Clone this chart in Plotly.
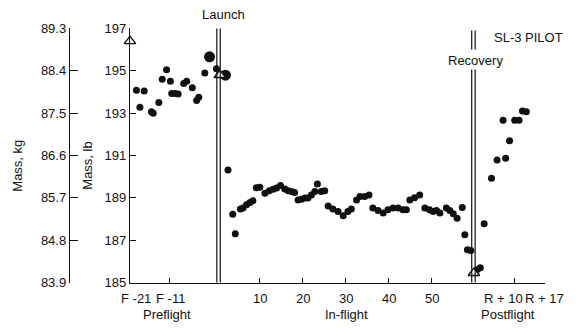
import plotly.graph_objects as go

# ---------------- data (days relative to launch unless noted) ----------------
RECOVERY_DAY = 59.3          # recovery, in days after launch

# preflight: days before launch (F - n) and mass in lb
pre_days = [18.7, 16.9, 17.9, 15.2, 14.8, 13.5, 12.7, 11.7, 10.8, 10.5, 9.7, 9.0,
            7.7, 7.0, 5.7, 4.7, 4.2, 2.8, 0.1]
pre_mass = [194.08, 194.04, 193.28, 193.07, 192.99, 193.5, 194.6, 195.05, 194.5,
            193.93, 193.93, 193.9, 194.4, 194.5, 194.2, 193.6, 193.75, 194.9, 195.1]

# in-flight: mission day and mass in lb
inflight_days = [2.6, 3.7, 4.3, 5.5, 6.1, 6.9, 7.7, 8.4, 9.2, 10.0, 11.2, 12.2, 13.1,
                 13.9, 14.8, 15.8, 16.6, 17.4, 18.1, 18.9, 19.7, 20.5, 21.2, 22.0,
                 22.8, 23.4, 24.3, 25.1, 25.9, 27.0, 28.2, 29.4, 30.5, 31.3, 32.5,
                 33.3, 34.4, 35.4, 36.3, 37.5, 38.7, 39.8, 41.0, 42.2, 43.3, 44.1,
                 44.9, 46.0, 47.2, 48.4, 49.5, 50.3, 51.1, 51.9, 53.4, 54.2, 55.0,
                 55.9, 57.1, 57.7, 58.3, 59.1]
inflight_mass = [190.32, 188.23, 187.31, 188.47, 188.52, 188.67, 188.78, 188.86,
                 189.48, 189.5, 189.22, 189.34, 189.41, 189.46, 189.58, 189.42,
                 189.33, 189.3, 189.25, 188.9, 188.94, 188.99, 188.99, 189.14, 189.3,
                 189.66, 189.3, 189.34, 188.62, 188.47, 188.36, 188.15, 188.36,
                 188.47, 188.9, 189.06, 189.06, 189.14, 188.52, 188.4, 188.28,
                 188.44, 188.52, 188.52, 188.44, 188.44, 188.9, 189.01, 189.14,
                 188.52, 188.44, 188.36, 188.4, 188.28, 188.52, 188.4, 188.25,
                 188.04, 188.54, 187.26, 186.55, 186.52]

# postflight: days after recovery (R + n) and mass in lb
post_days = [1.3, 2.0, 2.9, 4.6, 5.9, 7.3, 7.9, 8.8, 10.0, 11.0, 11.8, 12.7]
post_mass = [185.62, 185.7, 187.78, 189.93, 190.79, 192.67, 190.87, 191.7,
             192.67, 192.67, 193.1, 193.06]

# larger dots near launch (days relative to launch)
big_days = [-1.7, 2.0]
big_mass = [195.66, 194.79]

# open triangles (days relative to launch)
tri_days = [-20.2, 0.7, 59.8]
tri_mass = [196.4, 194.8, 185.45]

# axis ticks
lb_ticks = [185, 187, 189, 191, 193, 195, 197]
kg_ticks = [83.9, 84.8, 85.7, 86.6, 87.5, 88.4, 89.3]
x_tick_days = [-20.2, -11, 10, 20, 30, 40, 50, RECOVERY_DAY + 10, RECOVERY_DAY + 17]
x_tick_text = ["F -21", "F -11", "10", "20", "30", "40", "50", "R + 10", "R + 17"]
x_label_shift_px = [6, 1, 0, 0, 0, 0, 0, -11, 0]   # label offsets as printed

# ---------------- figure ----------------
FONT = "Liberation Sans, Arial, sans-serif"
BLACK = "#111111"

x_pre = [-d for d in pre_days]
x_post = [RECOVERY_DAY + d for d in post_days]

fig = go.Figure()
dot = dict(color=BLACK, size=7)
fig.add_trace(go.Scatter(x=x_pre, y=pre_mass, mode="markers", marker=dot, cliponaxis=False))
fig.add_trace(go.Scatter(x=inflight_days, y=inflight_mass, mode="markers", marker=dot,
                         cliponaxis=False))
fig.add_trace(go.Scatter(x=x_post, y=post_mass, mode="markers", marker=dot, cliponaxis=False))
fig.add_trace(go.Scatter(x=big_days, y=big_mass, mode="markers",
                         marker=dict(color=BLACK, size=11), cliponaxis=False))

# launch / recovery double lines
lw = dict(color=BLACK, width=1.2)
for xv in (0.0, 0.8):
    fig.add_shape(type="line", xref="x", yref="y", x0=xv, x1=xv, y0=185, y1=197, line=lw)
for xv in (RECOVERY_DAY, RECOVERY_DAY + 0.8):
    fig.add_shape(type="line", xref="x", yref="y", x0=xv, x1=xv, y0=185, y1=195.15, line=lw)
    fig.add_shape(type="line", xref="x", yref="y", x0=xv, x1=xv, y0=196.0, y1=196.9, line=lw)

fig.add_trace(go.Scatter(x=tri_days, y=tri_mass, mode="markers", cliponaxis=False,
                         marker=dict(symbol="triangle-up", size=10, color="white",
                                     line=dict(color=BLACK, width=1.4))))
# dummy trace to activate kg axis
fig.add_trace(go.Scatter(x=[None], y=[None], yaxis="y2", mode="markers", showlegend=False))

W_PLOT = 545.0
fig.update_layout(
    width=576, height=328,
    margin=dict(l=0, r=31, t=28, b=45, autoexpand=False),
    paper_bgcolor="white", plot_bgcolor="white",
    showlegend=False,
    font=dict(family=FONT, size=13, color=BLACK),
    xaxis=dict(domain=[130 / W_PLOT, 1], range=[-20.2, 76.35], showgrid=False, zeroline=False,
               showline=True, linecolor=BLACK, linewidth=1.4, automargin=False,
               ticks="inside", ticklen=5, tickwidth=1.2, tickcolor=BLACK,
               tickvals=x_tick_days, showticklabels=False),
    yaxis=dict(range=[184.98, 197.02], showgrid=False, zeroline=False, automargin=False,
               showline=True, linecolor=BLACK, linewidth=1.4,
               ticks="inside", ticklen=6, tickwidth=1.2, tickcolor=BLACK,
               tickvals=lb_ticks, tickfont=dict(size=13)),
    yaxis2=dict(overlaying="y", anchor="free", position=69 / W_PLOT, side="left",
                range=[83.9 - 0.0045, 89.3 + 0.0045], showgrid=False, zeroline=False,
                automargin=False,
                showline=True, linecolor=BLACK, linewidth=1.4,
                ticks="inside", ticklen=8, tickwidth=1.2, tickcolor=BLACK,
                tickvals=kg_ticks, ticktext=[f"{v:.1f}" for v in kg_ticks],
                tickfont=dict(size=13)),
)

ann = dict(showarrow=False, xanchor="center", yanchor="middle",
           font=dict(family=FONT, size=13, color=BLACK))
# x tick labels (placed at their ticks, nudged as in the printed figure)
for xv, txt, sh in zip(x_tick_days, x_tick_text, x_label_shift_px):
    fig.add_annotation(text=txt, xref="x", yref="paper", x=xv, y=0, yshift=-15,
                       xshift=sh, **ann)

fig.add_annotation(text="Mass, kg", xref="paper", yref="paper", x=18 / W_PLOT, y=0.46,
                   textangle=-90, **ann)
fig.add_annotation(text="Mass, lb", xref="paper", yref="paper", x=88 / W_PLOT, y=0.46,
                   textangle=-90, **ann)
fig.add_annotation(text="Launch", xref="x", yref="paper", x=1.6, y=1.051, **ann)
fig.add_annotation(text="Recovery", xref="x", yref="paper", x=60.2, y=0.871,
                   bgcolor="white", **ann)
fig.add_annotation(text="SL-3 PILOT", xref="x", yref="paper", x=72.6, y=0.961, **ann)
fig.add_annotation(text="Preflight", xref="x", yref="paper", x=-11.6, y=-0.125, **ann)
fig.add_annotation(text="In-flight", xref="x", yref="paper", x=30.2, y=-0.125, **ann)
fig.add_annotation(text="Postflight", xref="x", yref="paper", x=67.7, y=-0.125, **ann)

fig.write_html("out.html")
